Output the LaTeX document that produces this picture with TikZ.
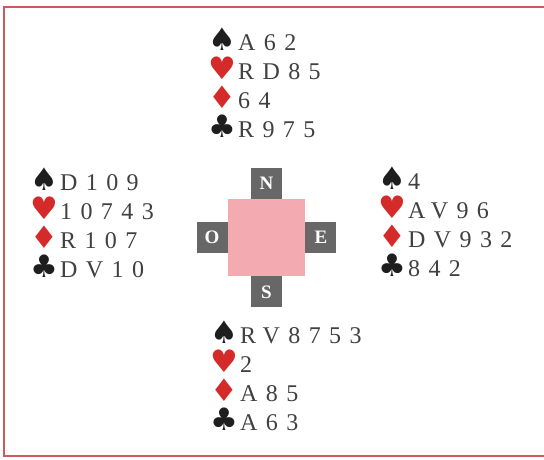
\documentclass[tikz,border=0pt]{standalone}
\usepackage{fontspec}
\setmainfont{Liberation Serif}
\newfontfamily\suitfont{DejaVu Sans}
\usetikzlibrary{positioning}

\definecolor{suitred}{HTML}{D42A2A}
\definecolor{suitblack}{HTML}{1E1E1E}
\definecolor{cardgray}{HTML}{404040}
\definecolor{framered}{HTML}{D05A5A}
\definecolor{tablepink}{HTML}{F3AAB1}
\definecolor{seatgray}{HTML}{676767}

\newcommand{\suit}[2]{\makebox[30pt][l]{\suitfont\fontsize{31}{31}\selectfont\color{#1}#2}}
% one hand: four lines, the node's base is the first line
\newcommand{\cards}[4]{\vtop{\baselineskip=29pt\lineskiplimit=-100pt
    \hbox{\suit{suitblack}{♠}#1}\hbox{\suit{suitred}{♥}#2}%
    \hbox{\suit{suitred}{♦}#3}\hbox{\suit{suitblack}{♣}#4}}}

\begin{document}
\begin{tikzpicture}[
    x=1pt, y=-1pt,
    hand/.style={inner sep=0pt, anchor=base west, text=cardgray,
        font={\fontsize{24}{29}\selectfont\addfontfeature{LetterSpace=35}}},
    table/.style={fill=tablepink, minimum size=77pt, inner sep=0pt},
    seat/.style={fill=seatgray, text=white, minimum size=31pt, inner sep=0pt,
        font={\fontsize{19}{19}\selectfont\bfseries}},
    frame/.style={draw=framered, line width=2pt}
]
    \useasboundingbox (0,0) rectangle (544,459);

    % --- frame (open on the right) ---
    \draw[frame] (560,7) -- (4,7) -- (4,456) -- (560,456);

    % --- table and seats ---
    \node[table] (table) at (266.5,237.5) {};
    \node[seat, above=0pt of table] (seatN) {N};
    \node[seat, below=0pt of table] (seatS) {S};
    \node[seat, left=0pt of table] (seatO) {O};
    \node[seat, right=0pt of table] (seatE) {E};

    % --- hands ---
    \node[hand] (handN) at (208,50) {\cards{A62}{RD85}{64}{R975}};
    \node[hand] (handO) at (30,190) {\cards{D109}{10743}{R107}{DV10}};
    \node[hand] (handE) at (378,189) {\cards{4}{AV96}{DV932}{842}};
    \node[hand] (handS) at (210,343) {\cards{RV8753}{2}{A85}{A63}};

\end{tikzpicture}
\end{document}
